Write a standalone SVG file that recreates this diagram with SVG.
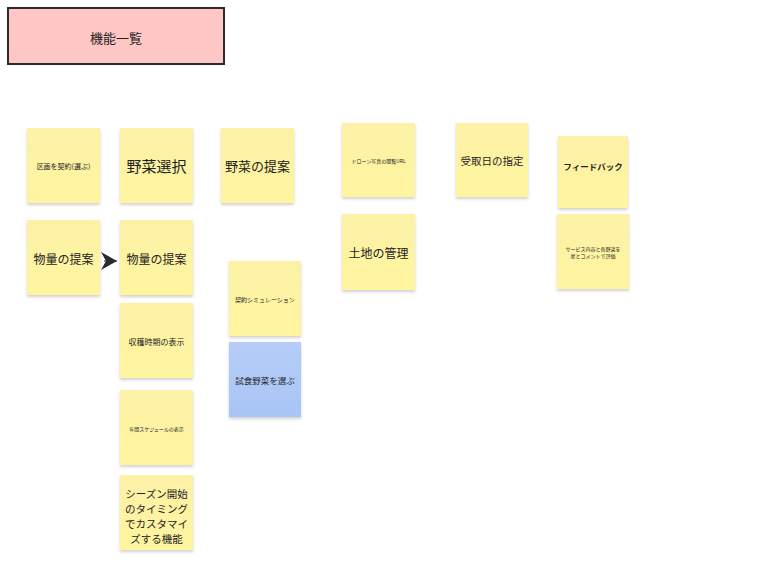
<svg xmlns="http://www.w3.org/2000/svg" width="764" height="563" viewBox="0 0 764 563">
<defs>
<linearGradient id="gy" x1="0" y1="0" x2="0" y2="1"><stop offset="0" stop-color="#fcf1a6"/><stop offset="1" stop-color="#fff59f"/></linearGradient>
<linearGradient id="gb" x1="0" y1="0" x2="0" y2="1"><stop offset="0" stop-color="#b5cdf7"/><stop offset="1" stop-color="#a9c5f6"/></linearGradient>
<filter id="sh" x="-20%" y="-20%" width="140%" height="150%"><feDropShadow dx="0" dy="2" stdDeviation="1.5" flood-color="#000" flood-opacity="0.18"/></filter>
<marker id="ah" markerWidth="16" markerHeight="18" refX="16" refY="9" orient="auto" markerUnits="userSpaceOnUse"><path d="M0,0 L16,9 L0,18 L5,9 Z" fill="#2b2b2b"/></marker>
</defs>
<style>
.n{fill:url(#gy);filter:url(#sh)}
.b{fill:url(#gb);filter:url(#sh)}
text{font-family:"Noto Sans CJK JP","Liberation Sans",sans-serif;fill:#222;text-anchor:middle;dominant-baseline:central}
</style>
<rect width="764" height="563" fill="#ffffff"/>
<g id="title"><rect x="8" y="8" width="216" height="56" fill="#ffc6c6" stroke="#2b2b2b" stroke-width="2"/><text x="116" y="37" font-size="13">機能一覧</text></g>
<g id="n1"><rect class="n" x="27" y="128" width="73" height="75"/><text x="63.5" y="166" font-size="7">区画を契約(選ぶ)</text></g>
<g id="n2"><rect class="n" x="120" y="128" width="73" height="75"/><text x="156.5" y="165" font-size="15">野菜選択</text></g>
<g id="n3"><rect class="n" x="221" y="128" width="73" height="75"/><text x="257.5" y="165" font-size="13">野菜の提案</text></g>
<g id="n4"><rect class="n" x="342" y="123" width="73" height="74"/><text x="378.5" y="160" font-size="5">ドローン写真の閲覧URL</text></g>
<g id="n5"><rect class="n" x="456" y="123" width="72" height="74"/><text x="492" y="160" font-size="10.5">受取日の指定</text></g>
<g id="n6"><rect class="n" x="558" y="136" width="70" height="72"/><text x="593" y="166" font-size="8.5" font-weight="bold">フィードバック</text></g>
<g id="n7"><rect class="n" x="557" y="214" width="72" height="75"/><text x="593" y="251" font-size="5"><tspan x="593" dy="-3.5">サービス内容と各野菜を</tspan><tspan x="593" dy="7">星とコメントで評価</tspan></text></g>
<g id="n8"><rect class="n" x="27" y="220" width="73" height="75"/><text x="63.5" y="258" font-size="12">物量の提案</text></g>
<g id="n9"><rect class="n" x="120" y="220" width="73" height="75"/><text x="156.5" y="258" font-size="12">物量の提案</text></g>
<g id="n10"><rect class="n" x="342" y="214" width="73" height="76"/><text x="378.5" y="252" font-size="12">土地の管理</text></g>
<g id="n11"><rect class="n" x="229" y="261" width="72" height="75"/><text x="265" y="299" font-size="6">契約シミュレーション</text></g>
<g id="n12"><rect class="b" x="229" y="342" width="72" height="75"/><text x="265" y="380" font-size="8.5">試食野菜を選ぶ</text></g>
<g id="n13"><rect class="n" x="120" y="303" width="73" height="75"/><text x="156.5" y="341" font-size="8">収穫時期の表示</text></g>
<g id="n14"><rect class="n" x="120" y="390" width="73" height="75"/><text x="156.5" y="428" font-size="5">年間スケジュールの表示</text></g>
<g id="n15"><rect class="n" x="120" y="475" width="73" height="75"/><text font-size="10.5"><tspan x="156.5" y="493">シーズン開始</tspan><tspan x="156.5" y="508">のタイミング</tspan><tspan x="156.5" y="523">でカスタマイ</tspan><tspan x="156.5" y="538">ズする機能</tspan></text></g>
<g id="connectors"><path d="M104,261 L117,261" stroke="#2b2b2b" stroke-width="1" fill="none" marker-end="url(#ah)"/></g>
</svg>
